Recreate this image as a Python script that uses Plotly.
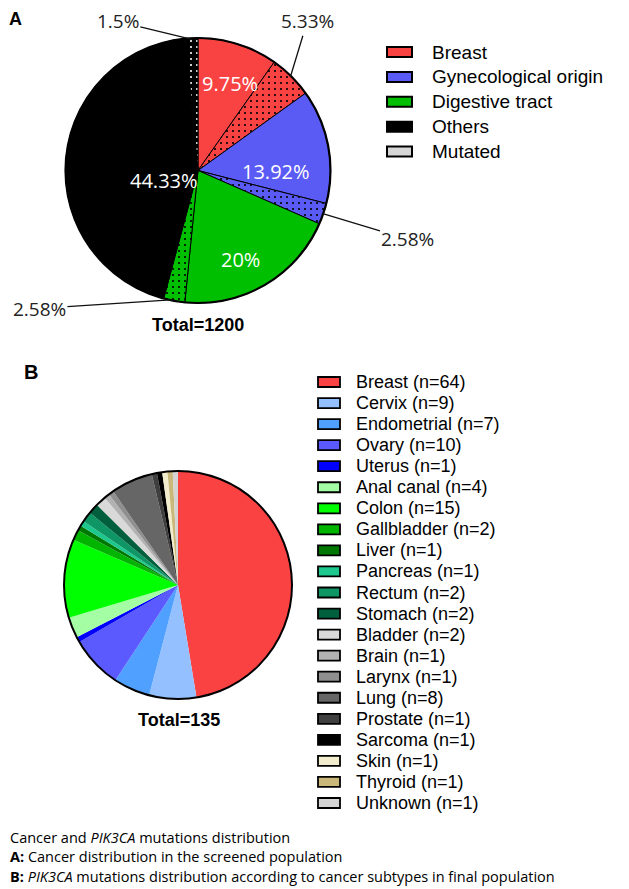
import math
import plotly.graph_objects as go

# page body adds an 8px margin, so the figure sits at (8, 8)
OFF = 8
W, H = 629 - OFF, 889 - OFF

# ---- panel A: cancer distribution in the screened population (%) ----
a_groups = ["Breast", "Gynecological origin", "Digestive tract", "Others"]
a_plain = [9.75, 13.92, 20, 44.33]
a_mutated = [5.33, 2.58, 2.58, 1.5]
a_total = 1200

# ---- panel B: PIK3CA mutations by cancer subtype (n) ----
b_labels = ["Breast", "Cervix", "Endometrial", "Ovary", "Uterus", "Anal canal",
            "Colon", "Gallbladder", "Liver", "Pancreas", "Rectum", "Stomach",
            "Bladder", "Brain", "Larynx", "Lung", "Prostate", "Sarcoma",
            "Skin", "Thyroid", "Unknown"]
b_counts = [64, 9, 7, 10, 1, 4, 15, 2, 1, 1, 2, 2, 2, 1, 1, 8, 1, 1, 1, 1, 1]

A_COLORS = ["#F94343", "#5A5AF5", "#00BF00", "#000000"]
B_COLORS = ["#FA4242", "#94C0FF", "#4FA0FF", "#5A5AFF", "#0000FF", "#A4FFA4",
            "#00FF00", "#00B400", "#007800", "#1CC88E", "#0E9665", "#00603E",
            "#D9D9D9", "#B2B2B2", "#8F8F8F", "#666666", "#3F3F3F", "#000000",
            "#F2EDCC", "#C9B87A", "#D4D4D4"]

# pixel geometry (page coordinates) of the two pies
A_C, A_R = (198, 170.5), 132.5
B_C, B_R = (178, 585), 114

FONT = "Liberation Sans, Arial, sans-serif"
CAP = "Open Sans, sans-serif"


def px(x, y):
    return (x - OFF) / W, 1 - (y - OFF) / H


def domain(c, r):
    x0, y1 = px(c[0] - r, c[1] - r)
    x1, y0 = px(c[0] + r, c[1] + r)
    return dict(x=[x0, x1], y=[y0, y1])


def edge(c, r, angle_deg, frac=1.0):
    a = math.radians(angle_deg)
    return c[0] + r * frac * math.sin(a), c[1] - r * frac * math.cos(a)


# interleave plain / mutated slices
a_vals, a_cols, a_shape, a_fg = [], [], [], []
for g, v, m, col in zip(a_groups, a_plain, a_mutated, A_COLORS):
    a_vals += [v, m]
    a_cols += [col, col]
    a_shape += ["", "."]
    a_fg += ["black", "white" if col == "#000000" else "black"]
a_names = [f"{g}{s}" for g in a_groups for s in ("", " mutated")]

fig = go.Figure()
fig.add_trace(go.Pie(
    labels=a_names, values=a_vals, sort=False, direction="clockwise", rotation=0,
    marker=dict(colors=a_cols, line=dict(color="black", width=1),
                pattern=dict(shape=a_shape, fgcolor=a_fg, fillmode="overlay",
                             fgopacity=1, size=6, solidity=0.1)),
    textinfo="none", hoverinfo="label+value", showlegend=False,
    domain=domain(A_C, A_R),
))
fig.add_trace(go.Pie(
    values=[1], marker=dict(colors=["rgba(0,0,0,0)"], line=dict(color="black", width=2.2)),
    textinfo="none", hoverinfo="skip", showlegend=False, domain=domain(A_C, A_R),
))
fig.add_trace(go.Pie(
    labels=b_labels, values=b_counts, sort=False, direction="clockwise", rotation=0,
    marker=dict(colors=B_COLORS, line=dict(width=0)),
    textinfo="none", hoverinfo="label+value", showlegend=False,
    domain=domain(B_C, B_R),
))
fig.add_trace(go.Pie(
    values=[1], marker=dict(colors=["rgba(0,0,0,0)"], line=dict(color="black", width=2)),
    textinfo="none", hoverinfo="skip", showlegend=False, domain=domain(B_C, B_R),
))

ann, shapes = [], []

# slice labels for panel A
inside_frac = [0.81, 0.60, 0.64, 0.53]        # where the white inside labels sit
outside_off = [(17, -56), (86, 26), (-135, 9), (-74, -18)]  # leader-label offsets (px)
total = sum(a_vals)
cum = 0
for i, v in enumerate(a_vals):
    mid = (cum + v / 2) / total * 360
    cum += v
    g = i // 2
    if i % 2 == 0:
        x, y = edge(A_C, A_R, mid, inside_frac[g])
        ann.append(dict(x=px(x, y)[0], y=px(x, y)[1], xref="paper", yref="paper",
                        text=f"{v:g}%", showarrow=False,
                        font=dict(family=CAP, size=20, color="white")))
    else:
        x, y = edge(A_C, A_R, mid, 0.99)
        dx, dy = outside_off[g]
        ann.append(dict(x=px(x, y)[0], y=px(x, y)[1], xref="paper", yref="paper",
                        text=f"{v:g}%", showarrow=True, arrowhead=0, arrowwidth=1.3,
                        arrowcolor="#111", ax=dx, ay=dy, standoff=0,
                        font=dict(family=CAP, size=19, color="#222")))

# legend A
leg_a = a_groups + ["Mutated"]
leg_a_fill = A_COLORS + ["#D6D6D6"]
for k, (lab, col) in enumerate(zip(leg_a, leg_a_fill)):
    yc = 52 + k * 24.9
    x0, y0 = px(387, yc - 5)
    x1, y1 = px(412, yc + 5)
    shapes.append(dict(type="rect", xref="paper", yref="paper", x0=x0, x1=x1, y0=y1, y1=y0,
                       fillcolor=col, line=dict(color="black", width=2)))
    tx, ty = px(430, yc)
    ann.append(dict(x=tx, y=ty, xref="paper", yref="paper", text=lab, showarrow=False,
                    xanchor="left", yanchor="middle",
                    font=dict(family=FONT, size=19, color="black")))

# legend B
for k, (lab, n, col) in enumerate(zip(b_labels, b_counts, B_COLORS)):
    yc = 382 + k * 21.05
    x0, y0 = px(318, yc - 5)
    x1, y1 = px(340, yc + 5)
    shapes.append(dict(type="rect", xref="paper", yref="paper", x0=x0, x1=x1, y0=y1, y1=y0,
                       fillcolor=col, line=dict(color="black", width=1.8)))
    tx, ty = px(354, yc)
    ann.append(dict(x=tx, y=ty, xref="paper", yref="paper", text=f"{lab} (n={n})",
                    showarrow=False, xanchor="left", yanchor="middle",
                    font=dict(family=FONT, size=18, color="black")))

# panel letters and totals
for txt, (x, y), size in [("A", (15, 19), 18), ("B", (31, 372), 20),
                          (f"Total={a_total}", (198, 325), 18),
                          (f"Total={sum(b_counts)}", (179, 720), 18)]:
    xx, yy = px(x, y)
    ann.append(dict(x=xx, y=yy, xref="paper", yref="paper", text=f"<b>{txt}</b>",
                    showarrow=False, xanchor="center", yanchor="middle",
                    font=dict(family=FONT, size=size, color="black")))

# caption
caption = ["Cancer and <i>PIK3CA</i> mutations distribution",
           "<b>A:</b> Cancer distribution in the screened population",
           "<b>B:</b> <i>PIK3CA</i> mutations distribution according to cancer subtypes in final population"]
for k, line in enumerate(caption):
    xx, yy = px(OFF, 837 + k * 19.5)
    ann.append(dict(x=xx, y=yy, xref="paper", yref="paper", text=line, showarrow=False,
                    xanchor="left", yanchor="middle",
                    font=dict(family=CAP, size=14.5, color="black")))

fig.update_layout(
    width=W, height=H,
    margin=dict(l=0, r=0, t=0, b=0),
    paper_bgcolor="white", plot_bgcolor="white",
    annotations=ann, shapes=shapes,
)
fig.write_html("out.html")
